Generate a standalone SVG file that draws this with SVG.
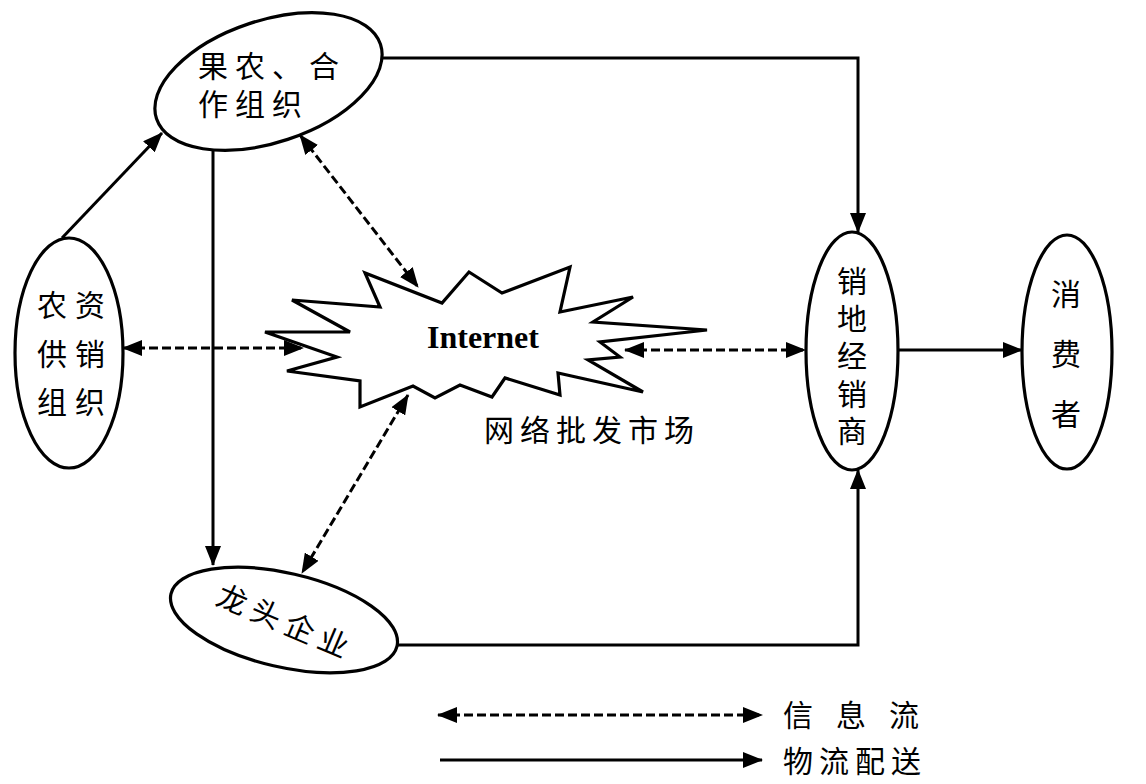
<svg xmlns="http://www.w3.org/2000/svg" width="1146" height="784" viewBox="0 0 1146 784">
<style>
.node{fill:#fff;stroke:#000;stroke-width:3.2}
.cn{font-family:"Liberation Sans","Noto Sans CJK SC","Noto Sans CJK JP",sans-serif;font-size:30px;fill:#000}
.solid{fill:none;stroke:#000;stroke-width:3}
.dash{fill:none;stroke:#000;stroke-width:3;stroke-dasharray:9 4}
</style>
<defs>
<marker id="ah" viewBox="0 0 20 16" refX="19" refY="8" markerWidth="20" markerHeight="16" markerUnits="userSpaceOnUse" orient="auto-start-reverse">
<path d="M0,0 L20,8 L0,16 z" fill="#000"/>
</marker>
</defs>
<rect width="1146" height="784" fill="#fff"/>
<g id="connectors">
<path class="solid" d="M62,238 L162,133" marker-end="url(#ah)"/>
<path class="solid" d="M213,150 L213,565" marker-end="url(#ah)"/>
<path class="solid" d="M382,58 H858 V232" marker-end="url(#ah)"/>
<path class="solid" d="M398,645 H858 V470" marker-end="url(#ah)"/>
<path class="solid" d="M897,350 H1022" marker-end="url(#ah)"/>
<path class="dash" d="M123,348 H303" marker-start="url(#ah)" marker-end="url(#ah)"/>
<path class="dash" d="M625,350 H805" marker-start="url(#ah)" marker-end="url(#ah)"/>
<path class="dash" d="M300,135 L418,287" marker-start="url(#ah)" marker-end="url(#ah)"/>
<path class="dash" d="M408,395 L302,573" marker-start="url(#ah)" marker-end="url(#ah)"/>
</g>
<g id="internet">
<polygon class="node" points="643,392 558,373 560,395 505,378 492,397 460,385 435,398 413,386 360,407 360,381 287,371 337,357 265,332 350,332 292,300 380,307 365,273 442,303 469,272 502,293 570,267 560,312 633,297 593,322 707,330 600,342 620,357 588,360"/>
<text x="427" y="348" font-family="Liberation Serif,serif" font-weight="bold" font-size="32">Internet</text>
</g>
<g id="market-label">
<text class="cn" x="484" y="441" letter-spacing="6">网络批发市场</text>
</g>
<g id="farmers">
<ellipse class="node" cx="268.5" cy="81.5" rx="118" ry="61" transform="rotate(-18.4 268.5 81.5)"/>
<text class="cn" letter-spacing="7"><tspan x="198" y="77">果农、合</tspan><tspan x="198" y="115">作组织</tspan></text>
</g>
<g id="supply">
<ellipse class="node" cx="69" cy="353" rx="54" ry="115"/>
<text class="cn" letter-spacing="8"><tspan x="37" y="316">农资</tspan><tspan x="37" y="365">供销</tspan><tspan x="37" y="413">组织</tspan></text>
</g>
<g id="enterprise">
<ellipse class="node" cx="284" cy="620" rx="116" ry="47" transform="rotate(13 284 620)"/>
<text class="cn" transform="translate(283 621) rotate(23)" x="-70" y="11" letter-spacing="6.6">龙头企业</text>
</g>
<g id="dealer">
<ellipse class="node" cx="852" cy="351" rx="46" ry="119"/>
<text class="cn" text-anchor="middle"><tspan x="852" y="292">销</tspan><tspan x="852" y="330">地</tspan><tspan x="852" y="367">经</tspan><tspan x="852" y="405">销</tspan><tspan x="852" y="442">商</tspan></text>
</g>
<g id="consumer">
<ellipse class="node" cx="1067" cy="352" rx="45" ry="117"/>
<text class="cn" text-anchor="middle"><tspan x="1066" y="305">消</tspan><tspan x="1066" y="365">费</tspan><tspan x="1066" y="425">者</tspan></text>
</g>
<g id="legend">
<path class="dash" d="M438,715 H762" marker-start="url(#ah)" marker-end="url(#ah)"/>
<path class="solid" d="M440,760 H762" marker-end="url(#ah)"/>
<text class="cn" x="783" y="726" font-size="29" letter-spacing="23">信息流</text>
<text class="cn" x="783" y="772" font-size="29" letter-spacing="6">物流配送</text>
</g>
</svg>
